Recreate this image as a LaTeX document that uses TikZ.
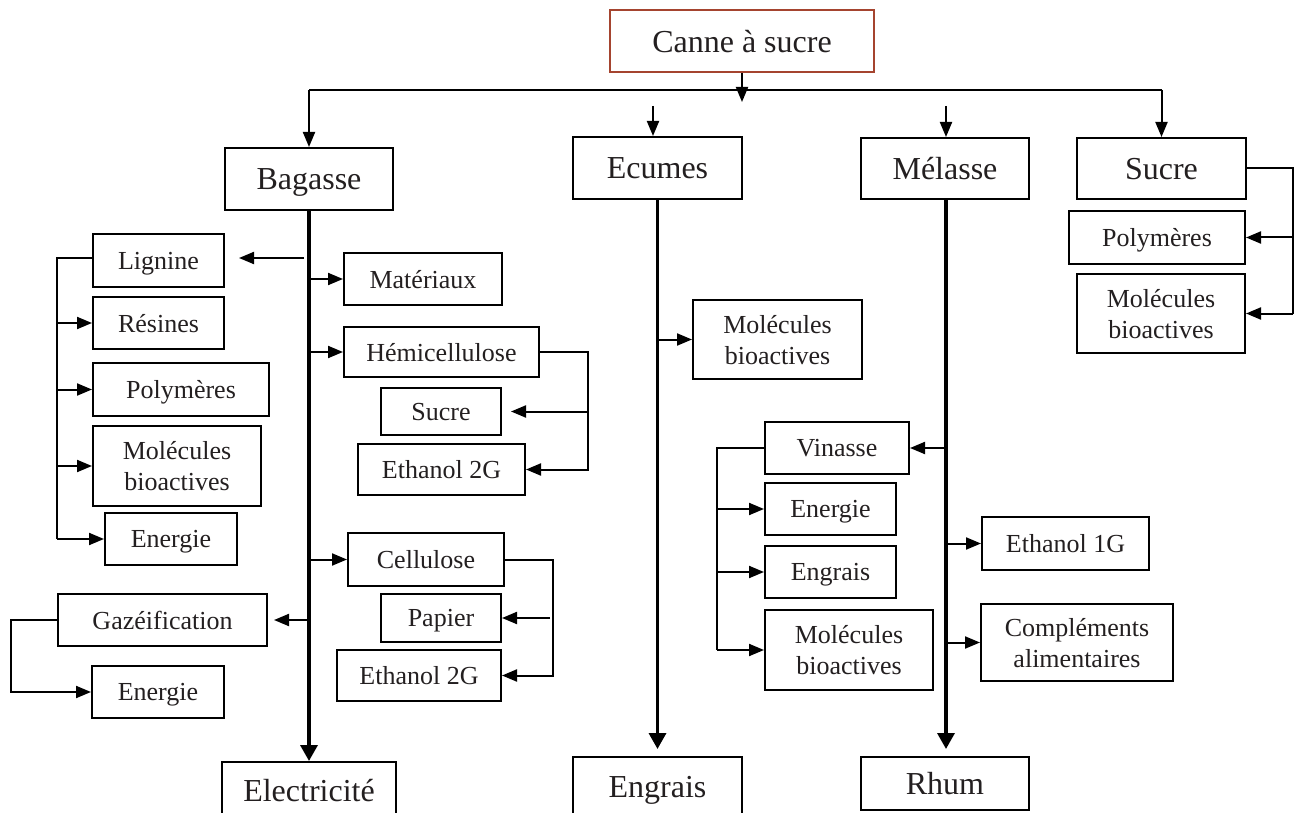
\documentclass[tikz,border=0pt]{standalone}
\usepackage{fontspec}
\setmainfont{Liberation Serif}
\usetikzlibrary{arrows.meta}
\definecolor{txt}{HTML}{231F20}
\definecolor{rootred}{HTML}{A5442F}
\begin{document}
\begin{tikzpicture}[x=1pt,y=-1pt,
  box/.style={draw=black, line width=2pt, inner sep=0pt, align=center, text=txt,
    text depth=0pt, font=\fontsize{26}{31}\selectfont},
  big/.style={box, font=\fontsize{32}{38}\selectfont},
  conn/.style={line width=2pt},
  arr/.style={conn, -{Triangle[length=15pt,width=12pt]}},
  trunk/.style={line width=3.4pt, -{Triangle[length=16pt,width=17pt]}}]
\useasboundingbox (0,0) rectangle (1299,813);

% main nodes
\node[big, draw=rootred, minimum width=264pt, minimum height=62pt] (canne) at (742,41) {Canne à sucre};
\node[big, minimum width=168pt, minimum height=62pt] (bagasse) at (309,179) {Bagasse};
\node[big, minimum width=169pt, minimum height=62pt] (ecumes) at (657.5,168) {Ecumes};
\node[big, minimum width=168pt, minimum height=61pt] (melasse) at (945,168.5) {Mélasse};
\node[big, minimum width=169pt, minimum height=61pt] (sucre) at (1161.5,168.5) {Sucre};
\node[big, minimum width=174pt, minimum height=56pt] (electricite) at (309,790) {Electricité};
\node[big, minimum width=169pt, minimum height=60pt] (engrais) at (657.5,787) {Engrais};
\node[big, minimum width=168pt, minimum height=53pt] (rhum) at (945,783.5) {Rhum};

% Sucre children
\node[box, minimum width=176pt, minimum height=53pt] (polyS) at (1157,237.5) {Polymères};
\node[box, minimum width=168pt, minimum height=79pt] (molS) at (1161,313.5) {Molécules\\bioactives};

% Bagasse left
\node[box, minimum width=131pt, minimum height=53pt] (lignine) at (158.5,260.5) {Lignine};
\node[box, minimum width=131pt, minimum height=52pt] (resines) at (158.5,323) {Résines};
\node[box, minimum width=176pt, minimum height=53pt] (polyL) at (181,389.5) {Polymères};
\node[box, minimum width=168pt, minimum height=80pt] (molL) at (177,466) {Molécules\\bioactives};
\node[box, minimum width=132pt, minimum height=52pt] (energieL) at (171,539) {Energie};
\node[box, minimum width=209pt, minimum height=52pt] (gaz) at (162.5,620) {Gazéification};
\node[box, minimum width=132pt, minimum height=52pt] (energieG) at (158,692) {Energie};

% Bagasse right
\node[box, minimum width=158pt, minimum height=52pt] (materiaux) at (423,279) {Matériaux};
\node[box, minimum width=195pt, minimum height=50pt] (hemi) at (441.5,352) {Hémicellulose};
\node[box, minimum width=120pt, minimum height=47pt] (sucreB) at (441,411.5) {Sucre};
\node[box, minimum width=167pt, minimum height=51pt] (eth2a) at (441.5,469.5) {Ethanol 2G};
\node[box, minimum width=156pt, minimum height=53pt] (cellulose) at (426,559.5) {Cellulose};
\node[box, minimum width=120pt, minimum height=48pt] (papier) at (441,618) {Papier};
\node[box, minimum width=164pt, minimum height=51pt] (eth2b) at (419,675.5) {Ethanol 2G};

% Ecumes
\node[box, minimum width=169pt, minimum height=79pt] (molE) at (777.5,339.5) {Molécules\\bioactives};

% Melasse
\node[box, minimum width=144pt, minimum height=52pt] (vinasse) at (837,448) {Vinasse};
\node[box, minimum width=131pt, minimum height=52pt] (energieV) at (830.5,509) {Energie};
\node[box, minimum width=131pt, minimum height=52pt] (engraisV) at (830.5,572) {Engrais};
\node[box, minimum width=168pt, minimum height=80pt] (molV) at (849,650) {Molécules\\bioactives};
\node[box, minimum width=167pt, minimum height=53pt] (eth1) at (1065.5,543.5) {Ethanol 1G};
\node[box, minimum width=192pt, minimum height=77pt] (compl) at (1077,642.5) {Compléments\\alimentaires};

% helper coordinates
\coordinate (bar) at (742,90);
\coordinate (cArr) at (742,102);
\coordinate (ecTop) at (653,106);
\coordinate (meTop) at (946,106);
\coordinate (lgX) at (57,258);
\coordinate (gzX) at (11,620);
\coordinate (hmX) at (588,352);
\coordinate (clX) at (553,560);
\coordinate (vnX) at (717,448);
\coordinate (suX) at (1293,169);

% top distribution
\draw[conn] (bar -| bagasse.north) -- (bar -| sucre.north);
\draw[arr] (canne.south) -- (cArr);
\draw[arr] (bar -| bagasse.north) -- (bagasse.north);
\draw[arr] (bar -| sucre.north) -- (sucre.north);
\draw[arr] (ecTop) -- (ecTop |- ecumes.north);
\draw[arr] (meTop) -- (meTop |- melasse.north);

% trunks
\draw[trunk] (bagasse.south) -- (electricite.north);
\draw[trunk, shorten >=7pt] (ecumes.south) -- (engrais.north);
\draw[trunk, shorten >=7pt] (meTop |- melasse.south) -- (meTop |- rhum.north);

% Bagasse left branches
\draw[arr, shorten <=5pt, shorten >=14pt] (lgX -| bagasse.south) -- (lgX -| lignine.east);
\draw[conn] (lignine.west |- lgX) -- (lgX) -- (lgX |- energieL.west);
\draw[arr] (lgX |- resines.west) -- (resines.west);
\draw[arr] (lgX |- polyL.west) -- (polyL.west);
\draw[arr] (lgX |- molL.west) -- (molL.west);
\draw[arr] (lgX |- energieL.west) -- (energieL.west);
\draw[arr, shorten >=6pt] (gaz.east -| bagasse.south) -- (gaz.east);
\draw[arr] (gaz.west) -| (gzX |- energieG.west) -- (energieG.west);

% Bagasse right branches
\draw[arr] (materiaux.west -| bagasse.south) -- (materiaux.west);
\draw[arr] (hemi.west -| bagasse.south) -- (hemi.west);
\draw[arr] (cellulose.west -| bagasse.south) -- (cellulose.west);
\draw[arr] (hemi.east) -| (hmX |- eth2a.east) -- (eth2a.east);
\draw[arr, shorten >=9pt] (hmX |- sucreB.east) -- (sucreB.east);
\draw[arr] (cellulose.east) -| (clX |- eth2b.east) -- (eth2b.east);
\draw[arr, shorten <=3pt] (clX |- papier.east) -- (papier.east);

% Ecumes branch
\draw[arr] (molE.west -| ecumes.south) -- (molE.west);

% Melasse branches
\draw[arr] (vinasse.east -| meTop) -- (vinasse.east);
\draw[conn] (vinasse.west) -| (vnX |- molV.west);
\draw[arr] (vnX |- energieV.west) -- (energieV.west);
\draw[arr] (vnX |- engraisV.west) -- (engraisV.west);
\draw[arr] (vnX |- molV.west) -- (molV.west);
\draw[arr] (eth1.west -| meTop) -- (eth1.west);
\draw[arr] (compl.west -| meTop) -- (compl.west);

% Sucre branches
\draw[conn] (sucre.east) -| (suX |- molS.east);
\draw[arr] (suX |- polyS.east) -- (polyS.east);
\draw[arr] (suX |- molS.east) -- (molS.east);
\end{tikzpicture}
\end{document}
